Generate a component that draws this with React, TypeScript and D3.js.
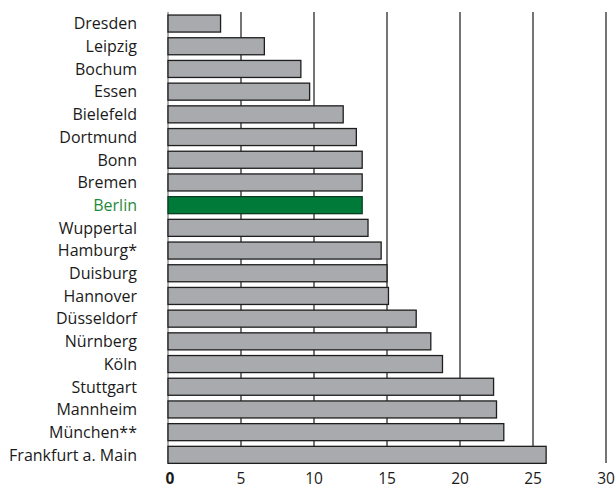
import React from "react";
import * as d3 from "d3";

const cities = ["Dresden","Leipzig","Bochum","Essen","Bielefeld","Dortmund","Bonn","Bremen","Berlin","Wuppertal","Hamburg*","Duisburg","Hannover","Düsseldorf","Nürnberg","Köln","Stuttgart","Mannheim","München**","Frankfurt a. Main"];
const values = [3.6,6.6,9.1,9.7,12.0,12.9,13.3,13.3,13.3,13.7,14.6,15.0,15.1,17.0,18.0,18.8,22.3,22.5,23.0,25.9];
const ticks = [0,5,10,15,20,25,30];
const highlight = "Berlin";

const W = 616, H = 488;
const font = "'Open Sans', 'Liberation Sans', sans-serif";

export default function App() {
  const x = d3.scaleLinear().domain([0, 30]).range([168, 606]);
  const y = d3.scaleBand<string>().domain(cities).range([12.2, 466.2]).paddingInner(0.25).paddingOuter(0.125);
  const gridTop = 12, gridBottom = 463;
  return (
    <svg width={W} height={H} style={{ position: "absolute", left: 0, top: 0 }}>
      <rect width={W} height={H} fill="#fff" />
      {ticks.map((t) => (
        <line key={t} x1={x(t)} x2={x(t)} y1={gridTop} y2={gridBottom} stroke={t === 0 ? "#555" : "#3a3a3a"} strokeWidth={t === 0 ? 1 : 1.4} />
      ))}
      {cities.map((c, i) => (
        <g key={c}>
          <rect x={x(0)} y={y(c)!} width={x(values[i]) - x(0)} height={y.bandwidth()}
            fill={c === highlight ? "#007a38" : "#a9aaad"} stroke={c === highlight ? "#0c3d20" : "#1e1e1e"} strokeWidth={1.3} />
          <text x={137} y={y(c)! + y.bandwidth() / 2} dy="0.36em" textAnchor="end" fontFamily={font} fontSize={16}
            fill={c === highlight ? "#1f8a3c" : "#1a1a1a"}>{c}</text>
        </g>
      ))}
      {ticks.map((t) => (
        <text key={"l" + t} x={x(t) + (t === 0 ? 2 : 0)} y={484} textAnchor="middle" fontFamily={font} fontSize={15.5}
          fontWeight={t === 0 ? "bold" : "normal"} fill="#1a1a1a">{t}</text>
      ))}
    </svg>
  );
}
